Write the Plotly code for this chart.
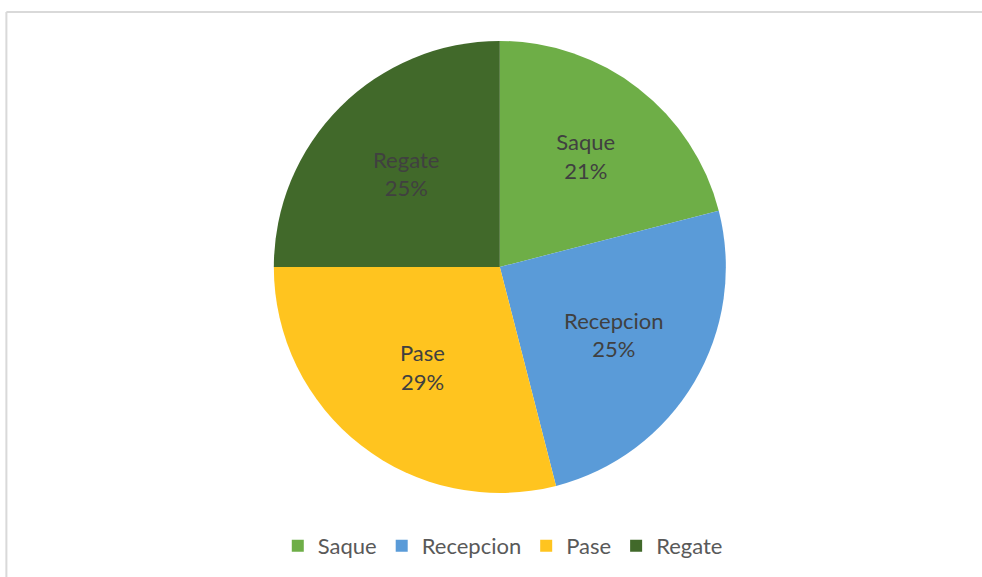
import plotly.graph_objects as go

categories = ["Saque", "Recepcion", "Pase", "Regate"]
values = [21, 25, 29, 25]
colors = ["#6EAE47", "#5A9BD8", "#FFC41F", "#41692A"]

fig = go.Figure()
fig.add_trace(go.Pie(
    labels=categories,
    values=values,
    sort=False,
    direction="clockwise",
    rotation=0,
    marker=dict(colors=colors, line=dict(width=0)),
    textinfo="label+percent",
    texttemplate="%{label}<br>%{percent:.0%}",
    textposition="inside",
    insidetextorientation="horizontal",
    textfont=dict(family="Lato, Noto Sans, sans-serif", size=22, color="#404040"),
    domain=dict(x=[0.2, 0.818], y=[0.1456, 0.929]),
    hoverinfo="label+percent",
))

fig.update_layout(
    width=982, height=577,
    margin=dict(l=0, r=0, t=0, b=0),
    paper_bgcolor="white",
    plot_bgcolor="white",
    showlegend=True,
    legend=dict(
        orientation="h",
        x=0.512, xanchor="center",
        y=0.054, yanchor="middle",
        font=dict(family="Lato, Noto Sans, sans-serif", size=22, color="#595959"),
        itemwidth=30,
        tracegroupgap=0,
    ),
    shapes=[
        dict(type="line", xref="paper", yref="paper", x0=0.0065, x1=1.0, y0=0.9792, y1=0.9792,
             line=dict(color="#d9d9d9", width=2)),
        dict(type="line", xref="paper", yref="paper", x0=0.0065, x1=0.0065, y0=0.0, y1=0.9792,
             line=dict(color="#d9d9d9", width=2)),
    ],
)

fig.write_html("out.html")
